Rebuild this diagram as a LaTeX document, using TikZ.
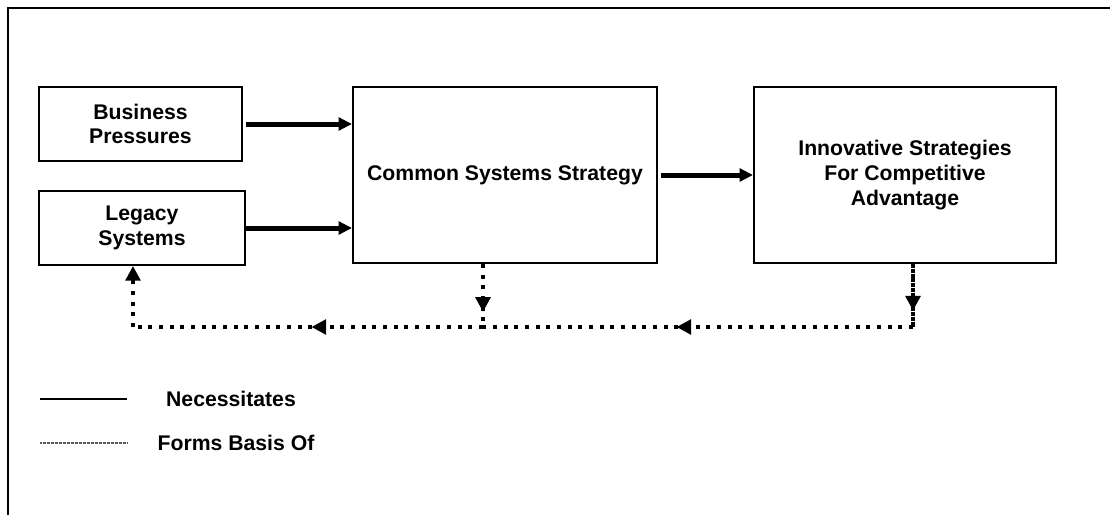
\documentclass[tikz,border=0pt]{standalone}
\usepackage{fontspec}
\setmainfont{Liberation Sans}
\usetikzlibrary{arrows.meta,decorations.markings}

\begin{document}
\begin{tikzpicture}[x=0.75pt,y=-0.75pt,
  box/.style={draw,line width=1.5pt,align=center,inner sep=0pt,
    font=\fontsize{15.9}{18.5}\selectfont\bfseries},
  necessitates/.style={line width=3.75pt,-{Triangle[length=10pt,width=9.5pt]}},
  basis/.style={line width=3pt,dash pattern=on 3pt off 5pt},
  midtip/.style={postaction={decorate},decoration={markings,
    mark=at position #1 with {\arrow{Triangle[length=11pt,width=11pt]}}}},
  legend/.style={font=\fontsize{15.9}{18.5}\selectfont\bfseries}]

  \useasboundingbox (0,0) rectangle (1110,515);
  \draw[line width=2pt] (8,515) -- (8,8) -- (1110,8);

  \node [box,minimum width=152.25pt,minimum height=55.5pt] (bp) at (140.5,124)
    {Business\\Pressures};
  \node [box,minimum width=154.5pt,minimum height=55.5pt] (ls) at (142,228)
    {Legacy\\Systems};
  \node [box,minimum width=228pt,minimum height=132pt] (css) at (505,175)
    {Common Systems Strategy};
  \node [box,minimum width=226.5pt,minimum height=132pt] (isca) at (905,175)
    {Innovative Strategies\\For Competitive\\Advantage};

  % what necessitates what
  \draw [necessitates,shorten <=2pt] (bp.east) -- (bp.east -| css.west);
  \draw [necessitates] (ls.east) -- (ls.east -| css.west);
  \draw [necessitates,shorten <=2pt] (css.east) -- (css.east -| isca.west);

  % what forms the basis of what
  \coordinate (back) at (133,327);
  \coordinate (mid) at (483,327);
  \coordinate (front) at (913,327);
  \draw [basis,dash pattern=on 3pt off 0.6pt,midtip=0.74] (front |- isca.south) -- (front);
  \draw [basis,midtip=0.55] (front) -- (mid);
  \draw [basis,midtip=0.76] (mid |- css.south) -- (mid);
  \draw [basis,midtip=0.49] (mid) -- (back);
  \draw [basis,-{Triangle[length=11pt,width=11pt]}] (back) -- (back |- ls.south);

  % legend
  \coordinate (neca) at (40,399);
  \coordinate (necb) at (127,399);
  \coordinate (fboa) at (40,443);
  \coordinate (fbob) at (127,443);
  \draw [line width=1.5pt] (neca) -- (necb);
  \draw [line width=1pt,gray!70!black,dash pattern=on 0.6pt off 0.4pt] (fboa) -- (fbob);
  \node [legend] (nectext) at (231,399) {Necessitates};
  \node [legend] (fbotext) at (236,443) {Forms Basis Of};
\end{tikzpicture}
\end{document}
